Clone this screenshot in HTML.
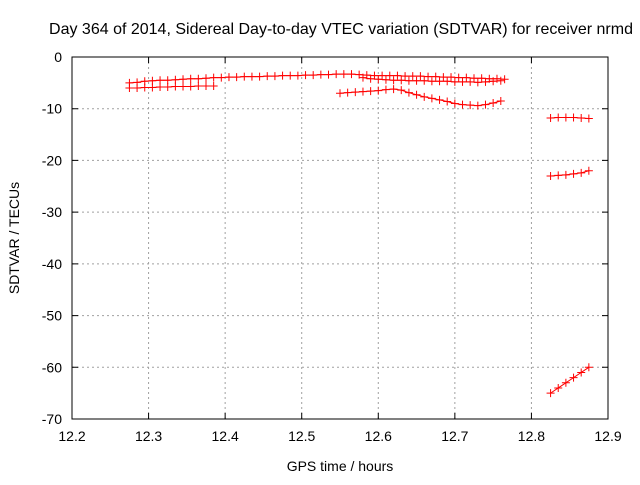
<!DOCTYPE html>
<html><head><meta charset="utf-8"><style>
body{margin:0;background:#fff;}
svg{font-family:"Liberation Sans",sans-serif;font-size:14px;}
</style></head><body>
<svg id="chart" width="640" height="480" xmlns="http://www.w3.org/2000/svg">
<rect width="640" height="480" fill="#fff"/>
<g id="grid"></g><g id="axes"></g><g id="series"></g>
<text x="341" y="34" text-anchor="middle" style="font-size:16px">Day 364 of 2014, Sidereal Day-to-day VTEC variation (SDTVAR) for receiver nrmd</text>
<text x="340" y="471" text-anchor="middle">GPS time / hours</text>
<text transform="translate(19,238) rotate(-90)" text-anchor="middle">SDTVAR / TECUs</text>
</svg>
<script>
const xTicks=[12.2,12.3,12.4,12.5,12.6,12.7,12.8,12.9];
const xTickLabels=["12.2","12.3","12.4","12.5","12.6","12.7","12.8","12.9"];
const yTicks=[0,-10,-20,-30,-40,-50,-60,-70];
const yTickLabels=["0","-10","-20","-30","-40","-50","-60","-70"];
const seriesAStart=12.275, seriesAValues=[-5,-4.9,-4.7,-4.6,-4.5,-4.5,-4.4,-4.3,-4.2,-4.2,-4.1,-4,-4,-3.9,-3.9,-3.8,-3.8,-3.8,-3.7,-3.7,-3.6,-3.6,-3.6,-3.5,-3.5,-3.4,-3.4,-3.3,-3.3,-3.3,-3.4,-3.5,-3.6,-3.6,-3.6,-3.6,-3.7,-3.7,-3.7,-3.8,-3.8,-3.9,-3.9,-4,-4,-4.1,-4.1,-4.2,-4.2,-4.3];
const seriesA2Start=12.58, seriesA2Values=[-4,-4.2,-4.3,-4.4,-4.5,-4.5,-4.6,-4.6,-4.6,-4.7,-4.7,-4.7,-4.8,-4.8,-4.8,-4.9,-4.8,-4.7,-4.6];
const seriesBStart=12.275, seriesBValues=[-6,-6,-5.9,-5.9,-5.8,-5.8,-5.7,-5.7,-5.7,-5.6,-5.6,-5.6];
const seriesCStart=12.55, seriesCValues=[-7,-6.9,-6.8,-6.7,-6.6,-6.5,-6.3,-6.2,-6.4,-6.9,-7.3,-7.7,-8,-8.3,-8.6,-9,-9.2,-9.3,-9.4,-9.2,-8.9,-8.5];
const seriesDStart=12.825, seriesDValues=[-11.8,-11.7,-11.7,-11.7,-11.8,-11.9];
const seriesEStart=12.825, seriesEValues=[-23,-22.9,-22.8,-22.6,-22.4,-22];
const seriesFStart=12.825, seriesFValues=[-65,-64,-63,-62,-61,-60];
const step=0.01;
const L=72,R=608,T=57,B=419;
const xs=v=>L+(v-12.2)/0.7*(R-L);
const ys=v=>T+(0-v)/70*(B-T);
const NS="http://www.w3.org/2000/svg";
function mk(tag,parent,attrs){const e=document.createElementNS(NS,tag);for(const k in attrs)e.setAttribute(k,attrs[k]);parent.appendChild(e);return e;}
const grid=document.getElementById('grid'),axes=document.getElementById('axes'),ser=document.getElementById('series');
xTicks.forEach((t,i)=>{const x=xs(t);
 if(i>0&&i<xTicks.length-1){const g=mk('line',grid,{x1:x,x2:x,y1:T,y2:B,stroke:'#a0a0a0','stroke-dasharray':'2,3'});}
 const tk=mk('path',axes,{d:`M${x},${B}v-6M${x},${T}v6`,stroke:'#000'});
 const lb=mk('text',axes,{x:x,y:B+22,'text-anchor':'middle'});lb.textContent=xTickLabels[i];});
yTicks.forEach((t,i)=>{const y=ys(t);
 if(i>0&&i<yTicks.length-1){const g=mk('line',grid,{x1:L,x2:R,y1:y,y2:y,stroke:'#a0a0a0','stroke-dasharray':'2,3'});}
 const tk=mk('path',axes,{d:`M${L},${y}h6M${R},${y}h-6`,stroke:'#000'});
 const lb=mk('text',axes,{x:L-10,y:y+5,'text-anchor':'end'});lb.textContent=yTickLabels[i];});
const fr=mk('rect',axes,{x:L,y:T,width:R-L,height:B-T,fill:'none',stroke:'#000'});

function draw(name,start,vals){
 const g=mk('g',ser,{});
 const pts=vals.map((v,i)=>[xs(start+i*step),ys(v)]);
 mk('polyline',g,{points:pts.map(p=>p.join(',')).join(' '),fill:'none',stroke:'#f00','stroke-width':1});
 pts.forEach(p=>{const m=mk('path',g,{d:`M${p[0]-4},${p[1]}h8M${p[0]},${p[1]-4}v8`,stroke:'#f00','stroke-width':1});});
}
draw('series-a',seriesAStart,seriesAValues);
draw('series-a2',seriesA2Start,seriesA2Values);
draw('series-b',seriesBStart,seriesBValues);
draw('series-c',seriesCStart,seriesCValues);
draw('series-d',seriesDStart,seriesDValues);
draw('series-e',seriesEStart,seriesEValues);
draw('series-f',seriesFStart,seriesFValues);
</script>
</body></html>
